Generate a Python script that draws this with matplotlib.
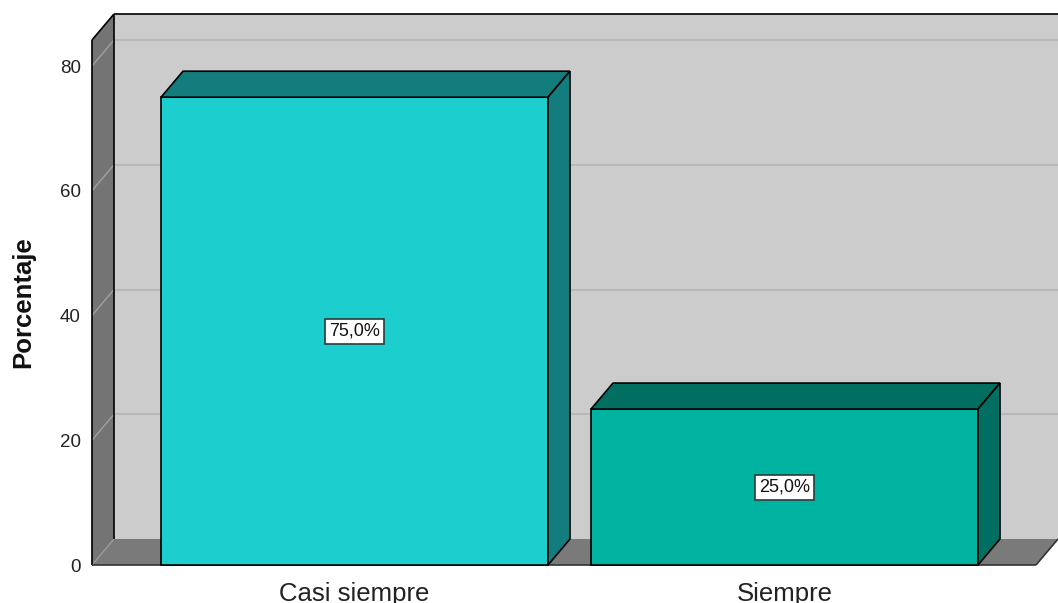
import matplotlib
matplotlib.use("Agg")
import matplotlib.pyplot as plt
from matplotlib.patches import Polygon

# chart data
categories = ["Casi siempre", "Siempre"]
percentages = [75.0, 25.0]
bar_labels = ["75,0%", "25,0%"]
y_ticks = [0, 20, 40, 60, 80]

front_colors = ["#1ccece", "#00b3a1"]
shade_colors = ["#137c7c", "#006e60"]

plt.rcParams['font.family'] = ['Liberation Sans', 'DejaVu Sans']

fig = plt.figure(figsize=(10.58, 6.03), dpi=100)
ax = fig.add_axes([92 / 1058, (603 - 565) / 603, (1036 - 92) / 1058, (565 - 40) / 603])
x0, x1 = -0.6105, 1.5849
ytop = 84.17
ax.set_xlim(x0, x1)
ax.set_ylim(0, ytop)

# 3D depth offset in data units
dx = 22 / 430
dy = 26 / 6.2375

def poly(pts, fc, ec="none", lw=0, z=1):
    ax.add_patch(Polygon(pts, closed=True, facecolor=fc, edgecolor=ec,
                         linewidth=lw, clip_on=False, zorder=z))

def line(xs, ys, c="black", lw=1.2, z=3):
    ax.plot(xs, ys, color=c, lw=lw, clip_on=False, zorder=z, solid_capstyle="butt")

# back wall
poly([(x0 + dx, dy), (x1 + dx, dy), (x1 + dx, ytop + dy), (x0 + dx, ytop + dy)], "#cccccc", z=1)
for t in y_ticks[1:]:
    line([x0 + dx, x1 + dx], [t + dy, t + dy], c="#b8b8b8", lw=1.5, z=1.5)

# floor and side wall
poly([(x0, 0), (x1, 0), (x1 + dx, dy), (x0 + dx, dy)], "#7a7a7a", z=2)
poly([(x0, 0), (x0 + dx, dy), (x0 + dx, ytop + dy), (x0, ytop)], "#747474", z=2)
for t in y_ticks[1:]:
    line([x0, x0 + dx], [t, t + dy], c="#a0a0a0", lw=1, z=2.5)
line([x0, x0 + dx], [0, dy], c="#9a9a9a", lw=1, z=2.5)

# box edges
line([x0, x0], [0, ytop])
line([x0, x0 + dx], [ytop, ytop + dy])
line([x0 + dx, x0 + dx], [dy, ytop + dy])
line([x0 + dx, x1 + dx], [ytop + dy, ytop + dy])
line([x0, x1], [0, 0], c="#333333")
line([x1, x1 + dx], [0, dy], c="#333333")

# bars
w = 0.45
for i, h in enumerate(percentages):
    xl, xr = i - w, i + w
    poly([(xl, 0), (xr, 0), (xr, h), (xl, h)], front_colors[i], "black", 1.2, 4)
    poly([(xl, h), (xr, h), (xr + dx, h + dy), (xl + dx, h + dy)], shade_colors[i], "black", 1.2, 4)
    poly([(xr, 0), (xr + dx, dy), (xr + dx, h + dy), (xr, h)], shade_colors[i], "black", 1.2, 4)
    ax.text(i, h / 2, bar_labels[i], ha="center", va="center", fontsize=13, color="#111111",
            zorder=6, bbox=dict(boxstyle="square,pad=0.22", fc="white", ec="#2b3b3b", lw=1.2))

ax.set_yticks(y_ticks)
ax.set_yticklabels([str(t) for t in y_ticks])
ax.set_xticks(range(len(categories)))
ax.set_xticklabels(categories)
ax.tick_params(axis="y", length=0, pad=8, labelsize=13.5, labelcolor="#222222")
ax.tick_params(axis="x", length=0, pad=12, labelsize=18.5, labelcolor="#222222")
for lbl in ax.get_yticklabels():
    lbl.set_verticalalignment("center_baseline")
for s in ax.spines.values():
    s.set_visible(False)
ax.patch.set_visible(False)

fig.text(23 / 1058, 1 - 302 / 603, "Porcentaje", rotation=90, fontweight="bold",
         fontsize=18.5, ha="center", va="center", color="#111111")

fig.savefig("out.png", dpi=100)
